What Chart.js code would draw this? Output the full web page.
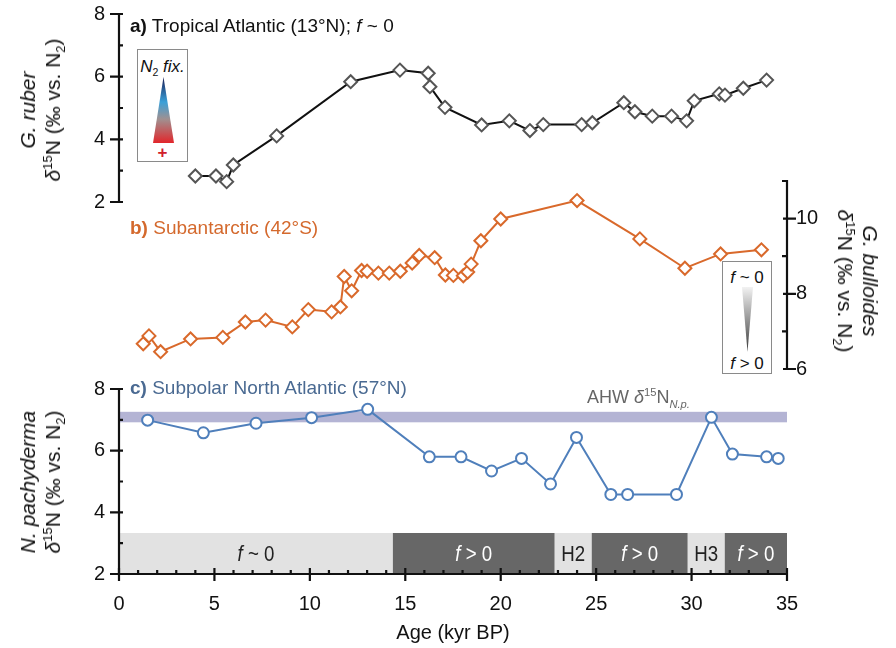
<!DOCTYPE html>
<html>
<head>
<meta charset="utf-8">
<script src="https://cdn.jsdelivr.net/npm/chart.js@4.4.1/dist/chart.umd.min.js"></script>
<style>
  body { margin: 0; background: #fff; }
  #wrap { position: relative; width: 896px; height: 648px; overflow: hidden;
          font-family: "Liberation Sans", Arial, Helvetica, sans-serif; color: #111; }
  #wrap canvas { position: absolute; left: 0; top: 0; }
  .txt { position: absolute; white-space: nowrap; font-size: 19px; line-height: 1; }
  .ytitle { position: absolute; white-space: nowrap; font-size: 21px; line-height: 25px; text-align: center; }
  sup, sub { font-size: 0.62em; line-height: 0; }
  .box { position: absolute; border: 1.5px solid #8a8a8a; box-sizing: border-box; background: #fff; }
  .box .t { position: absolute; left: 0; right: 0; text-align: center; font-size: 16px; line-height: 1; white-space: nowrap; }
  .tri { position: absolute; }
</style>
</head>
<body>
<div id="wrap">
  <canvas id="chartA" width="896" height="648"></canvas>
  <canvas id="chartB" width="896" height="648"></canvas>
  <canvas id="chartC" width="896" height="648"></canvas>

  <div class="txt" style="left:130px;top:16px"><b>a)</b> Tropical Atlantic (13°N); <i>f</i> ~ 0</div>
  <div class="txt" style="left:130px;top:218px;color:#d4692d"><b>b)</b> Subantarctic (42°S)</div>
  <div class="txt" style="left:130px;top:378px;color:#4a6a92"><b>c)</b> Subpolar North Atlantic (57°N)</div>
  <div class="txt" style="left:587px;top:388px;color:#666;font-size:18px">AHW <i>δ</i><sup>15</sup>N<sub><i>N.p.</i></sub></div>

  <div class="ytitle" style="left:40px;top:110px;transform:translate(-50%,-50%) rotate(-90deg)"><i>G. ruber</i><br><i>δ</i><sup>15</sup>N (‰ vs. N<sub>2</sub>)</div>
  <div class="ytitle" style="left:40px;top:482px;transform:translate(-50%,-50%) rotate(-90deg)"><i>N. pachyderma</i><br><i>δ</i><sup>15</sup>N (‰ vs. N<sub>2</sub>)</div>
  <div class="ytitle" style="left:858px;top:281px;transform:translate(-50%,-50%) rotate(90deg)"><i>G. bulloides</i><br><i>δ</i><sup>15</sup>N (‰ vs. N<sub>2</sub>)</div>

  <div class="box" style="left:137px;top:49px;width:51px;height:113px">
    <div class="t" style="top:8px;font-size:17px"><i>N</i><sub>2</sub> <i>fix.</i></div>
    <div class="tri" style="left:15px;top:27px;width:21px;height:66px;clip-path:polygon(50% 0,100% 100%,0 100%);background:linear-gradient(#1b1d55,#3aa0d8 38%,#a09090 64%,#e2262b)"></div>
    <div class="t" style="top:94px;color:#d0202a;font-weight:bold;font-size:17px">+</div>
  </div>
  <div class="box" style="left:722px;top:261px;width:50px;height:113px">
    <div class="t" style="top:7px;font-size:17px"><i>f</i> ~ 0</div>
    <div class="tri" style="left:19px;top:25px;width:11px;height:65px;clip-path:polygon(0 0,100% 0,50% 100%);background:linear-gradient(#f2f2f2,#3a3a3a)"></div>
    <div class="t" style="top:93px;font-size:17px"><i>f</i> &gt; 0</div>
  </div>
</div>

<script>
// a) G. ruber, Tropical Atlantic
const ageA = [4.0, 5.08, 5.64, 5.99, 8.26, 12.14, 14.72, 16.2, 16.29, 17.08, 19.0, 20.45, 21.53, 22.23, 24.24, 24.8, 26.45, 27.03, 27.94, 28.95, 29.74, 30.14, 31.45, 31.75, 32.71, 33.93];
const d15nA = [2.83, 2.83, 2.65, 3.18, 4.11, 5.84, 6.21, 6.11, 5.68, 5.02, 4.46, 4.59, 4.28, 4.47, 4.47, 4.53, 5.17, 4.88, 4.74, 4.74, 4.59, 5.23, 5.45, 5.41, 5.63, 5.89];

// b) G. bulloides, Subantarctic
const ageB = [1.27, 1.57, 2.18, 3.75, 5.44, 6.62, 7.68, 9.08, 9.92, 11.14, 11.6, 11.8, 12.19, 12.71, 13.0, 13.59, 14.16, 14.74, 15.36, 15.73, 16.54, 17.1, 17.52, 18.04, 18.27, 18.45, 18.96, 20.0, 24.0, 27.29, 29.65, 31.52, 33.66];
const d15nB = [6.67, 6.88, 6.46, 6.8, 6.84, 7.25, 7.3, 7.12, 7.58, 7.52, 7.65, 8.46, 8.08, 8.62, 8.6, 8.55, 8.55, 8.6, 8.82, 9.02, 8.96, 8.5, 8.49, 8.48, 8.58, 8.79, 9.41, 9.99, 10.48, 9.46, 8.68, 9.06, 9.17];

// c) N. pachyderma, Subpolar North Atlantic
const ageC = [1.5, 4.42, 7.18, 10.09, 13.03, 16.26, 17.92, 19.52, 21.09, 22.61, 23.97, 25.77, 26.65, 29.21, 31.04, 32.14, 33.93, 34.54];
const d15nC = [6.99, 6.58, 6.89, 7.07, 7.34, 5.8, 5.8, 5.34, 5.75, 4.92, 6.43, 4.58, 4.58, 4.58, 7.08, 5.89, 5.8, 5.75];

// AHW d15N band and the f / Heinrich phases under panel c
const ahwBand = [6.92, 7.26];
const phaseStart = [0, 14.35, 22.83, 24.77, 29.8, 31.74];
const phaseEnd = [14.35, 22.83, 24.77, 29.8, 31.74, 35];
const phaseLabel = ['f ~ 0', 'f > 0', 'H2', 'f > 0', 'H3', 'f > 0'];
const phaseDark = [false, true, false, true, false, true];
const phaseTop = 3.33;

const FONT = '"Liberation Sans", Arial, Helvetica, sans-serif';
Chart.defaults.font.family = FONT;
Chart.defaults.color = '#111';

// axis lines with ticks that cross the axis (majors) or sit inside it (minors)
const axisMarks = {
  id: 'axisMarks',
  afterDraw(chart, args, opts) {
    const { ctx, chartArea } = chart;
    ctx.save();
    ctx.strokeStyle = '#111';
    ctx.lineWidth = 2.2;
    for (const a of opts.axes) {
      const s = chart.scales[a.id];
      const horiz = s.isHorizontal();
      const base = horiz ? chartArea.bottom : (a.side === 'right' ? chartArea.right : chartArea.left);
      const inward = horiz ? -1 : (a.side === 'right' ? -1 : 1);
      const p0 = s.getPixelForValue(s.min), p1 = s.getPixelForValue(s.max);
      ctx.beginPath();
      if (horiz) { ctx.moveTo(p0 - 1, base); ctx.lineTo(p1 + 1, base); }
      else { ctx.moveTo(base, p0 + 1); ctx.lineTo(base, p1 - 1); }
      for (let v = s.min; v <= s.max + 1e-9; v += a.minor) {
        const p = s.getPixelForValue(v);
        const major = Math.abs(v / a.major - Math.round(v / a.major)) < 1e-6;
        const d1 = base + inward * (major ? -a.out : 0);
        const d2 = base + inward * (major ? a.inMajor : a.inMinor);
        if (horiz) { ctx.moveTo(p, d1); ctx.lineTo(p, d2); }
        else { ctx.moveTo(d1, p); ctx.lineTo(d2, p); }
      }
      ctx.stroke();
    }
    ctx.restore();
  }
};

// AHW band and the phase boxes, drawn behind the panel c line
const phaseBands = {
  id: 'phaseBands',
  beforeDatasetsDraw(chart) {
    const { ctx } = chart;
    const x = chart.scales.x, y = chart.scales.y;
    const xl = x.getPixelForValue(x.min), xr = x.getPixelForValue(x.max);
    ctx.save();
    const yt = y.getPixelForValue(ahwBand[1]), yb = y.getPixelForValue(ahwBand[0]);
    ctx.fillStyle = '#b4b4d4';
    ctx.fillRect(xl, yt, xr - xl, yb - yt);

    const top = y.getPixelForValue(phaseTop), bot = y.getPixelForValue(y.min);
    ctx.textBaseline = 'middle';
    phaseStart.forEach((s, i) => {
      const x0 = x.getPixelForValue(s), x1 = x.getPixelForValue(phaseEnd[i]);
      ctx.fillStyle = phaseDark[i] ? '#676767' : '#e2e2e2';
      ctx.fillRect(x0, top, x1 - x0, bot - top);

      const lab = phaseLabel[i];
      const parts = lab.startsWith('f ') ? [['f', 'italic '], [lab.slice(1), '']] : [[lab, '']];
      const widths = parts.map(([t, st]) => { ctx.font = st + '22px ' + FONT; return ctx.measureText(t).width; });
      const total = widths.reduce((a, b) => a + b, 0);
      ctx.save();
      ctx.translate((x0 + x1) / 2, (top + bot) / 2 + 1);
      ctx.scale(0.85, 1);
      ctx.fillStyle = phaseDark[i] ? '#fff' : '#222';
      let cx = -total / 2;
      parts.forEach(([t, st], k) => {
        ctx.font = st + '22px ' + FONT;
        ctx.fillText(t, cx, 0);
        cx += widths[k];
      });
      ctx.restore();
    });
    ctx.restore();
  }
};

const base = {
  responsive: false,
  animation: false,
  devicePixelRatio: 1,
  events: []
};

function series(ages, vals, color, markerColor, style) {
  return {
    data: ages.map((x, i) => ({ x, y: vals[i] })),
    borderColor: color,
    borderWidth: 2,
    tension: 0,
    pointStyle: style,
    pointRadius: style === 'circle' ? 5.5 : 6.5,
    pointBorderWidth: 2,
    pointBorderColor: markerColor,
    pointBackgroundColor: '#fff'
  };
}

// fixed axis box; label padding must not push the plot area
const fixWidth = w => s => { s.width = w; s.paddingTop = 0; s.paddingBottom = 0; };

const yTicks = { stepSize: 2, padding: 14, font: { size: 20 }, color: '#111' };

new Chart(document.getElementById('chartA'), {
  type: 'line',
  data: { datasets: [series(ageA, d15nA, '#111', '#555', 'rectRot')] },
  options: {
    ...base,
    layout: { padding: { left: 0, right: 109, top: 14, bottom: 446 } },
    scales: {
      x: { type: 'linear', min: 0, max: 35, display: false },
      y: {
        min: 2, max: 8,
        afterFit: fixWidth(119),
        grid: { display: false, drawTicks: false },
        border: { display: false },
        ticks: yTicks
      }
    },
    plugins: {
      legend: { display: false },
      tooltip: { enabled: false },
      axisMarks: { axes: [{ id: 'y', side: 'left', major: 2, minor: 1, out: 9, inMajor: 4, inMinor: 4 }] }
    }
  },
  plugins: [axisMarks]
});

new Chart(document.getElementById('chartB'), {
  type: 'line',
  data: { datasets: [series(ageB, d15nB, '#d9692b', '#d9692b', 'rectRot')] },
  options: {
    ...base,
    layout: { padding: { left: 119, right: 0, top: 181, bottom: 279 } },
    scales: {
      x: { type: 'linear', min: 0, max: 35, display: false },
      y: {
        position: 'right',
        min: 6, max: 11,
        afterFit: fixWidth(109),
        grid: { display: false, drawTicks: false },
        border: { display: false },
        ticks: { ...yTicks, padding: 9, callback: v => (v % 2 === 0 ? v : '') }
      }
    },
    plugins: {
      legend: { display: false },
      tooltip: { enabled: false },
      axisMarks: { axes: [{ id: 'y', side: 'right', major: 2, minor: 1, out: 9, inMajor: 4, inMinor: 5 }] }
    }
  },
  plugins: [axisMarks]
});

new Chart(document.getElementById('chartC'), {
  type: 'line',
  data: { datasets: [series(ageC, d15nC, '#4f7fbb', '#4f7fbb', 'circle')] },
  options: {
    ...base,
    layout: { padding: { left: 0, right: 109, top: 389, bottom: 0 } },
    scales: {
      x: {
        type: 'linear', min: 0, max: 35,
        afterFit: s => { s.height = 74; },
        grid: { display: false, drawTicks: false },
        border: { display: false },
        ticks: { stepSize: 5, padding: 18, font: { size: 20 }, color: '#111', maxRotation: 0 },
        title: { display: true, text: 'Age (kyr BP)', font: { size: 20 }, color: '#111', padding: { top: 0, bottom: 3 } }
      },
      y: {
        min: 2, max: 8,
        afterFit: fixWidth(119),
        grid: { display: false, drawTicks: false },
        border: { display: false },
        ticks: yTicks
      }
    },
    plugins: {
      legend: { display: false },
      tooltip: { enabled: false },
      axisMarks: { axes: [
        { id: 'y', side: 'left', major: 2, minor: 1, out: 9, inMajor: 4, inMinor: 4 },
        { id: 'x', major: 5, minor: 1, out: 7, inMajor: 6, inMinor: 4 }
      ] }
    }
  },
  plugins: [phaseBands, axisMarks]
});
</script>
</body>
</html>
